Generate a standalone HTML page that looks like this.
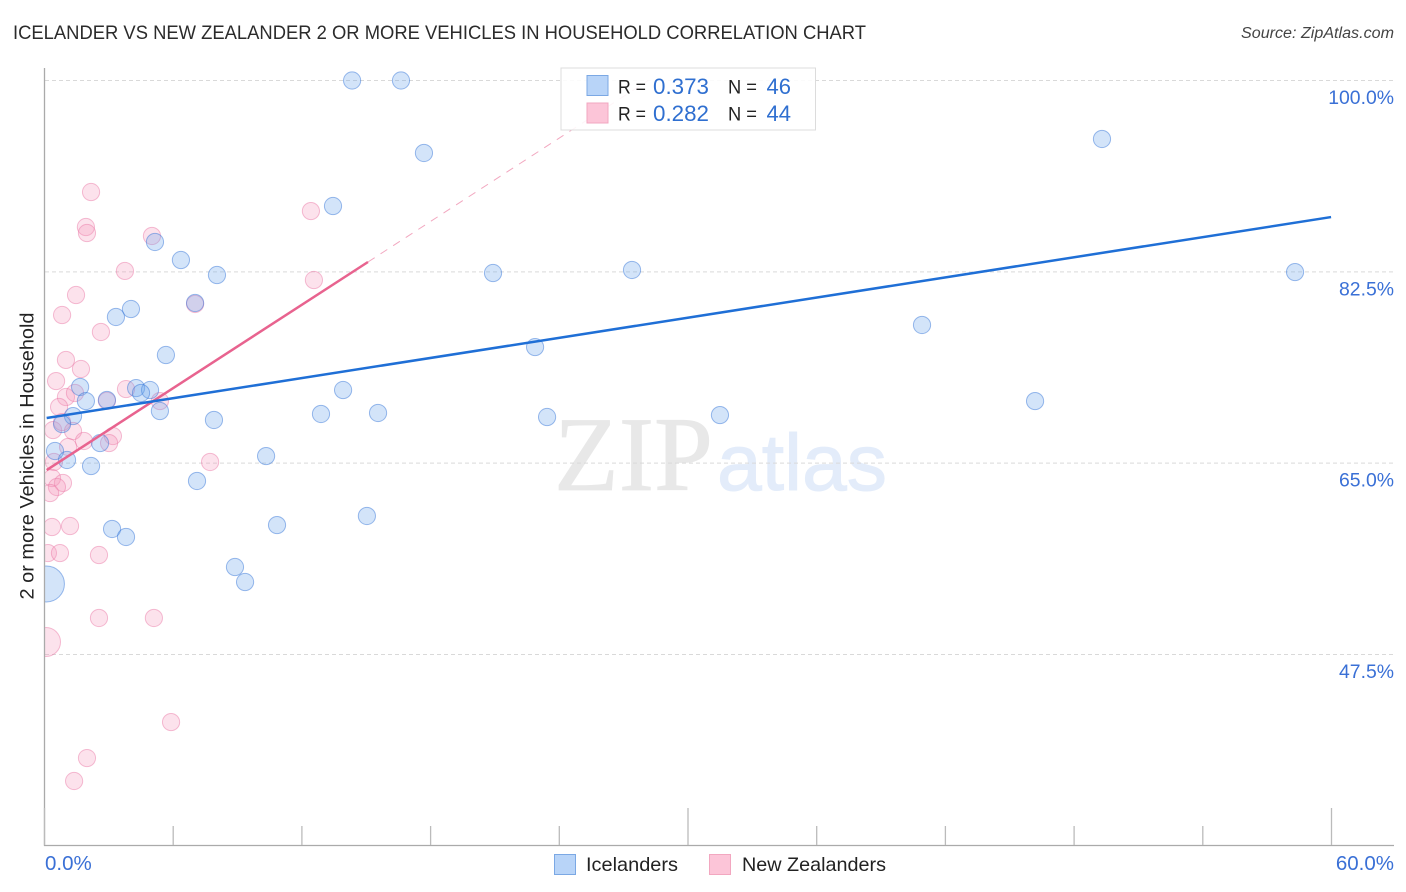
<!DOCTYPE html>
<html lang="en">
<head>
<meta charset="utf-8">
<title>Icelander vs New Zealander 2 or More Vehicles in Household Correlation Chart</title>
<style>
html,body{margin:0;padding:0;background:#fff;width:1406px;height:892px;overflow:hidden}
svg{display:block;font-family:"Liberation Sans",sans-serif}
</style>
</head>
<body>
<svg id="chart" width="1406" height="892" viewBox="0 0 1406 892" xmlns="http://www.w3.org/2000/svg">
  <defs>
    <clipPath id="plot-clip"><rect x="45" y="60" width="1349" height="785"/></clipPath>
  </defs>
  <rect width="1406" height="892" fill="#fff"/>
  <text x="13" y="39" font-size="19.5" fill="#2b2b2b" textLength="853" lengthAdjust="spacingAndGlyphs">ICELANDER VS NEW ZEALANDER 2 OR MORE VEHICLES IN HOUSEHOLD CORRELATION CHART</text>
  <text x="1241" y="38" font-size="15.5" font-style="italic" fill="#444" textLength="153" lengthAdjust="spacingAndGlyphs">Source: ZipAtlas.com</text>
  <g id="watermark">
    <text x="554" y="490" font-family="'Liberation Serif',serif" font-size="106" fill="#e8e8e8" stroke="#e8e8e8" stroke-width="0.8" textLength="159" lengthAdjust="spacingAndGlyphs">ZIP</text>
    <text x="717" y="490" font-size="80" fill="#e3ecfa" stroke="#e3ecfa" stroke-width="1" textLength="170" lengthAdjust="spacingAndGlyphs">atlas</text>
  </g>
  <g id="grid"></g>
  <g id="pink-points" clip-path="url(#plot-clip)"></g>
  <g id="blue-points" clip-path="url(#plot-clip)"></g>
  <g id="trends"></g>
  <g id="axes"></g>
  <g id="y-labels"></g>
  <g id="x-labels"></g>
  <text transform="translate(33.5,456) rotate(-90)" font-size="19" fill="#222" text-anchor="middle" textLength="287" lengthAdjust="spacingAndGlyphs">2 or more Vehicles in Household</text>

  <g>
    <rect x="561" y="68" width="254.5" height="62" fill="#fff" fill-opacity="0.88" stroke="#dcdcdc" stroke-width="1"/>
    <rect x="587" y="75.5" width="21" height="20" fill="#b8d4f8" stroke="#7ba8e4" stroke-width="1"/>
    <rect x="587" y="103" width="21" height="20" fill="#fcc5d8" stroke="#f2a7c0" stroke-width="1"/>
    <g font-size="19">
      <text x="618" y="93.5" fill="#222" textLength="28" lengthAdjust="spacingAndGlyphs">R =</text>
      <text x="653" y="94" fill="#2f6fd0" font-size="22" textLength="56" lengthAdjust="spacingAndGlyphs">0.373</text>
      <text x="728" y="93.5" fill="#222" textLength="29" lengthAdjust="spacingAndGlyphs">N =</text>
      <text x="791" y="94" fill="#2f6fd0" font-size="22" text-anchor="end">46</text>
      <text x="618" y="120.5" fill="#222" textLength="28" lengthAdjust="spacingAndGlyphs">R =</text>
      <text x="653" y="121" fill="#2f6fd0" font-size="22" textLength="56" lengthAdjust="spacingAndGlyphs">0.282</text>
      <text x="728" y="120.5" fill="#222" textLength="29" lengthAdjust="spacingAndGlyphs">N =</text>
      <text x="791" y="121" fill="#2f6fd0" font-size="22" text-anchor="end">44</text>
    </g>
  </g>

  <g>
    <g>
      <rect x="554.5" y="854.5" width="21" height="20" fill="#b8d4f8" stroke="#7ba8e4" stroke-width="1"/>
      <text x="586" y="871" font-size="19.5" fill="#222" textLength="92" lengthAdjust="spacingAndGlyphs">Icelanders</text>
    </g>
    <g>
      <rect x="709.5" y="854.5" width="21" height="20" fill="#fcc5d8" stroke="#f2a7c0" stroke-width="1"/>
      <text x="742" y="871" font-size="19.5" fill="#222" textLength="144" lengthAdjust="spacingAndGlyphs">New Zealanders</text>
    </g>
  </g>
</svg>
<script>
const icelanderX = [14.34,16.62,17.69,49.30,13.45,5.15,6.36,8.04,20.91,27.39,58.30,7.02,4.03,3.33,40.91,22.87,5.66,1.66,4.27,4.92,4.50,1.93,2.91,5.38,1.33,0.82,7.90,12.89,13.92,15.55,23.43,31.49,46.18,2.59,0.49,1.05,2.17,10.33,7.11,3.15,3.80,10.84,15.03,8.88,9.35,0.09];
const icelanderY = [100,100,93.37,94.65,88.52,85.23,83.58,82.21,82.39,82.67,82.48,79.65,79.10,78.37,77.64,75.62,74.89,71.97,71.87,71.69,71.42,70.68,70.78,69.77,69.31,68.58,68.95,69.50,71.69,69.59,69.22,69.40,70.68,66.84,66.11,65.29,64.74,65.65,63.37,58.98,58.25,59.34,60.17,55.50,54.13,53.95];
const zealanderX = [2.17,1.93,1.98,5.01,12.42,3.75,12.56,1.47,0.82,2.63,7.02,1.00,1.70,0.54,1.00,1.42,0.68,2.91,3.80,5.38,0.40,0.82,1.33,1.84,1.10,3.19,3.01,0.44,7.72,0.35,0.86,0.58,0.26,0.35,1.19,0.16,0.72,2.54,2.54,5.10,0.07,5.90,1.98,1.38];
const zealanderY = [89.80,86.60,86.05,85.78,88.06,82.58,81.75,80.38,78.55,77.00,79.56,74.44,73.61,72.51,71.05,71.42,70.14,70.70,71.78,70.68,68.03,68.76,67.94,67.03,66.48,67.48,66.84,65.11,65.11,63.64,63.19,62.82,62.27,59.16,59.25,56.78,56.78,56.60,50.84,50.84,48.64,41.32,38.03,35.93];
const icelanderLargePoint = 45;
const zealanderLargePoint = 40;
const icelanderTrendX = [0.1, 59.98];
const icelanderTrendY = [69.13, 87.51];
const zealanderTrendX = [0.1, 15.08];
const zealanderTrendY = [64.37, 83.40];
const zealanderProjectionX = [15.08, 28.14];
const zealanderProjectionY = [83.40, 100];
const yTicks = [100, 82.5, 65, 47.5];
const yTickLabels = ["100.0%", "82.5%", "65.0%", "47.5%"];
const xTicks = [0, 6, 12, 18, 24, 30, 36, 42, 48, 54, 60];
const xMajorTicks = [0, 30, 60];
const xEndLabels = ["0.0%", "60.0%"];

const NS = "http://www.w3.org/2000/svg";
function xScale(v){ return 44.5 + v * 21.45; }
function yScale(v){ return 80.5 + (100 - v) * 574 / 52.5; }
function make(tag, attrs, parent){
  const el = document.createElementNS(NS, tag);
  for (const k in attrs) el.setAttribute(k, attrs[k]);
  parent.appendChild(el);
  return el;
}
const grid = document.getElementById("grid");
yTicks.forEach(function(v){
  const el = make("line", {x1:45, x2:1394, y1:yScale(v), y2:yScale(v), stroke:"#d9d9d9", "stroke-width":1, "stroke-dasharray":"4 3"}, grid);
  
  
});
function drawPoints(parentId, xs, ys, large, largeR, fill, stroke){
  const parent = document.getElementById(parentId);
  xs.forEach(function(x, i){
    const el = make("circle", {cx:xScale(x), cy:yScale(ys[i]), r:i === large ? largeR : 8.6, fill:fill, stroke:stroke, "stroke-width":1}, parent);
    
    
  });
}
drawPoints("pink-points", zealanderX, zealanderY, zealanderLargePoint, 14.5, "rgba(246,150,185,0.28)", "rgba(234,120,165,0.48)");
drawPoints("blue-points", icelanderX, icelanderY, icelanderLargePoint, 18, "rgba(110,165,235,0.3)", "rgba(50,115,215,0.48)");

const trends = document.getElementById("trends");
const projection = make("line", {x1:xScale(zealanderProjectionX[0]), y1:yScale(zealanderProjectionY[0]), x2:xScale(zealanderProjectionX[1]), y2:yScale(zealanderProjectionY[1]), stroke:"#f2a8c0", "stroke-width":1, "stroke-dasharray":"8 7"}, trends);


const pinkTrend = make("line", {x1:xScale(zealanderTrendX[0]), y1:yScale(zealanderTrendY[0]), x2:xScale(zealanderTrendX[1]), y2:yScale(zealanderTrendY[1]), stroke:"#e8638f", "stroke-width":2.5}, trends);


const blueTrend = make("line", {x1:xScale(icelanderTrendX[0]), y1:yScale(icelanderTrendY[0]), x2:xScale(icelanderTrendX[1]), y2:yScale(icelanderTrendY[1]), stroke:"#1f6fd6", "stroke-width":2.5}, trends);



const axes = document.getElementById("axes");
const yAxis = make("line", {x1:44.5, x2:44.5, y1:68, y2:846, stroke:"#aaa", "stroke-width":1.3}, axes);


const xAxis = make("line", {x1:44, x2:1394, y1:845.5, y2:845.5, stroke:"#aaa", "stroke-width":1.3}, axes);


xTicks.forEach(function(v){
  const top = xMajorTicks.indexOf(v) >= 0 ? 808 : 826;
  const el = make("line", {x1:xScale(v), x2:xScale(v), y1:top, y2:845, stroke:"#bbb", "stroke-width":1.3}, axes);
  
  
});
const yLabels = document.getElementById("y-labels");
yTicks.forEach(function(v, i){
  const el = make("text", {x:1394, y:yScale(v) + 23.5, "font-size":19.4, fill:"#3a70d6", "text-anchor":"end"}, yLabels);
  el.textContent = yTickLabels[i];
  
  
});
const xLabels = document.getElementById("x-labels");
const xStart = make("text", {x:45, y:870, "font-size":20.5, fill:"#3a70d6"}, xLabels);
xStart.textContent = xEndLabels[0];


const xEnd = make("text", {x:1394, y:870, "font-size":20.5, fill:"#3a70d6", "text-anchor":"end"}, xLabels);
xEnd.textContent = xEndLabels[1];


</script>
</body>
</html>
